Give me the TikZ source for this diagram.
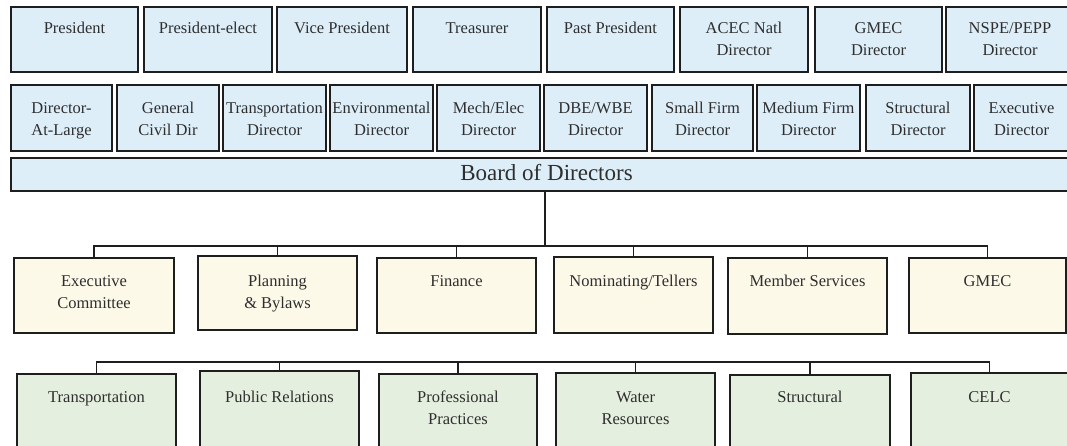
\documentclass[tikz,border=0pt]{standalone}
\usepackage{fontspec}
\setmainfont{Liberation Serif}
\definecolor{bl}{HTML}{DDEEF9}
\definecolor{cr}{HTML}{FDF9E9}
\definecolor{gr}{HTML}{E5EFDF}
\definecolor{ln}{HTML}{1E1E1E}
\definecolor{tx}{HTML}{2E2E2E}
\newcommand\orgbox[7]{\node[#1, minimum width={(#5-#3)*1pt}, minimum height={(#6-#4)*1pt}] (#2) at (#3,#4) {};}
\begin{document}
\begin{tikzpicture}[x=1pt,y=-1pt,
  box/.style={draw=ln, line width=1.6pt, inner sep=0pt, outer sep=0pt, anchor=north west},
  toprow/.style={box, fill=bl},
  dirrow/.style={box, fill=bl, line width=2.8pt},
  board/.style={box, fill=bl},
  commrow/.style={box, fill=cr},
  subrow/.style={box, fill=gr},
  lbl/.style={inner sep=0pt, align=center, anchor=north, text=tx, font=\fontsize{16.5}{22}\selectfont},
  conn/.style={draw=ln, line width=1.6pt}]
\useasboundingbox (0,0) rectangle (1067,446);
\fill[white] (0,0) rectangle (1067,446);
\coordinate (R1) at (0,17.6);
\coordinate (R2) at (0,97.6);
\coordinate (R3) at (0,270.6);
\coordinate (R4) at (0,386.6);
% row 1
\orgbox{toprow}{a1}{11}{7}{138}{72}{}
\orgbox{toprow}{a2}{144}{7}{272}{72}{}
\orgbox{toprow}{a3}{277}{7}{407}{72}{}
\orgbox{toprow}{a4}{413}{7}{541}{72}{}
\orgbox{toprow}{a5}{547}{7}{674}{72}{}
\orgbox{toprow}{a6}{680}{7}{808}{72}{}
\orgbox{toprow}{a7}{815}{7}{942}{72}{}
\orgbox{toprow}{a8}{946}{7}{1074}{72}{}
\node[lbl] (ta1) at (a1.north |- R1) {\strut President};
\node[lbl] (ta2) at (a2.north |- R1) {\strut President-elect};
\node[lbl] (ta3) at (a3.north |- R1) {\strut Vice President};
\node[lbl] (ta4) at (a4.north |- R1) {\strut Treasurer};
\node[lbl] (ta5) at (a5.north |- R1) {\strut Past President};
\node[lbl] (ta6) at (a6.north |- R1) {\strut ACEC Natl\\Director};
\node[lbl] (ta7) at (a7.north |- R1) {\strut GMEC\\Director};
\node[lbl] (ta8) at (1010,17.6) {\strut NSPE/PEPP\\Director};
% row 2
\orgbox{dirrow}{b1}{11}{85}{112}{151}{}
\orgbox{dirrow}{b2}{117}{85}{219}{151}{}
\orgbox{dirrow}{b3}{223}{85}{326}{151}{}
\orgbox{dirrow}{b4}{330}{85}{433}{151}{}
\orgbox{dirrow}{b5}{437}{85}{540}{151}{}
\orgbox{dirrow}{b6}{544}{85}{647}{151}{}
\orgbox{dirrow}{b7}{652}{85}{753}{151}{}
\orgbox{dirrow}{b8}{757}{85}{860}{151}{}
\orgbox{dirrow}{b9}{866}{85}{970}{151}{}
\orgbox{dirrow}{b10}{974}{85}{1069}{151}{}
\node[lbl] (tb1) at (b1.north |- R2) {\strut Director-\\At-Large};
\node[lbl] (tb2) at (b2.north |- R2) {\strut General\\Civil Dir};
\node[lbl] (tb3) at (b3.north |- R2) {\strut Transportation\\Director};
\node[lbl] (tb4) at (b4.north |- R2) {\strut Environmental\\Director};
\node[lbl] (tb5) at (b5.north |- R2) {\strut Mech/Elec\\Director};
\node[lbl] (tb6) at (b6.north |- R2) {\strut DBE/WBE\\Director};
\node[lbl] (tb7) at (b7.north |- R2) {\strut Small Firm\\Director};
\node[lbl] (tb8) at (b8.north |- R2) {\strut Medium Firm\\Director};
\node[lbl] (tb9) at (b9.north |- R2) {\strut Structural\\Director};
\node[lbl] (tb10) at (b10.north |- R2) {\strut Executive\\Director};
% board
\orgbox{board}{bod}{11}{158}{1069}{191}{}
\node[lbl, anchor=base, font=\fontsize{23}{28}\selectfont] (tbod) at (546.5,180.5) {Board of Directors};
% row 3
\orgbox{commrow}{c1}{14}{258}{174}{333}{}
\orgbox{commrow}{c2}{198}{256}{357}{330}{}
\orgbox{commrow}{c3}{377}{258}{536}{333}{}
\orgbox{commrow}{c4}{554}{257}{713}{333}{}
\orgbox{commrow}{c5}{728}{258}{887}{334}{}
\orgbox{commrow}{c6}{909}{258}{1066}{333}{}
\node[lbl] (tc1) at (c1.north |- R3) {\strut Executive\\Committee};
\node[lbl] (tc2) at (c2.north |- R3) {\strut Planning\\\& Bylaws};
\node[lbl] (tc3) at (c3.north |- R3) {\strut Finance};
\node[lbl] (tc4) at (c4.north |- R3) {\strut Nominating/Tellers};
\node[lbl] (tc5) at (c5.north |- R3) {\strut Member Services};
\node[lbl] (tc6) at (c6.north |- R3) {\strut GMEC};
% row 4
\orgbox{subrow}{s1}{17}{374}{176}{452}{}
\orgbox{subrow}{s2}{200}{371}{359}{452}{}
\orgbox{subrow}{s3}{379}{374}{537}{452}{}
\orgbox{subrow}{s4}{556}{373}{715}{452}{}
\orgbox{subrow}{s5}{730}{375}{890}{452}{}
\orgbox{subrow}{s6}{911}{373}{1068}{452}{}
\node[lbl] (ts1) at (s1.north |- R4) {\strut Transportation};
\node[lbl] (ts2) at (s2.north |- R4) {\strut Public Relations};
\node[lbl] (ts3) at (s3.north |- R4) {\strut Professional\\Practices};
\node[lbl] (ts4) at (s4.north |- R4) {\strut Water\\Resources};
\node[lbl] (ts5) at (s5.north |- R4) {\strut Structural};
\node[lbl] (ts6) at (s6.north |- R4) {\strut CELC};
% connectors
\coordinate (j1) at (545,246);
\coordinate (j2) at (0,362);
\draw[conn] (bod.south -| j1) -- (j1);
\draw[conn] (c1.north) -- (c1.north |- j1) -- (c6.north |- j1) -- (c6.north);
\foreach \n in {c2,c3,c4,c5} \draw[conn] (\n.north) -- (\n.north |- j1);
\draw[conn] (s1.north) -- (s1.north |- j2) -- (s6.north |- j2) -- (s6.north);
\foreach \n in {s2,s3,s4,s5} \draw[conn] (\n.north) -- (\n.north |- j2);
\end{tikzpicture}
\end{document}
